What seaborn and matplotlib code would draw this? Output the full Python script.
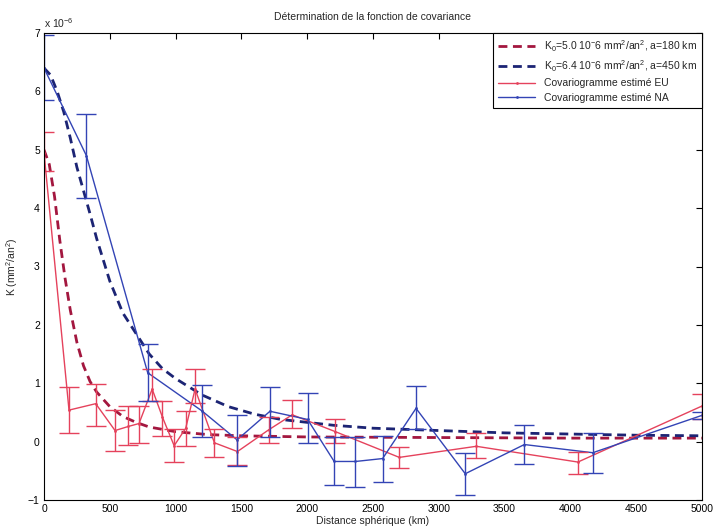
import numpy as np
import pandas as pd
import matplotlib
matplotlib.use('Agg')
import matplotlib.pyplot as plt
import seaborn as sns

# Values, K in units of 1e-6 mm^2/an^2, distance in km
# --- estimated covariogram, Europe (red)
dist_eu = [0, 190, 393, 540, 641, 722, 822, 900, 989, 1077, 1148, 1295, 1470, 1706, 1886, 2215, 2700, 3285, 4057, 5000]
k_eu = [4.95, 0.54, 0.65, 0.19, 0.26, 0.31, 0.90, 0.42, -0.07, 0.23, 0.90, -0.02, -0.17, 0.20, 0.46, 0.17, -0.27, -0.08, -0.35, 0.61]
top_eu = [5.30, 0.94, 0.99, 0.54, 0.61, 0.61, 1.25, 0.70, 0.22, 0.53, 1.24, 0.22, 0.08, 0.43, 0.71, 0.38, -0.09, 0.14, -0.17, 0.82]
bot_eu = [4.63, 0.14, 0.27, -0.16, -0.06, -0.02, 0.69, 0.09, -0.35, -0.07, 0.66, -0.26, -0.40, -0.03, 0.23, -0.02, -0.46, -0.28, -0.55, 0.39]

# --- estimated covariogram, North America (blue)
dist_na = [0, 322, 788, 1204, 1467, 1717, 2003, 2205, 2367, 2573, 2827, 3201, 3650, 4170, 5000]
k_na = [6.40, 4.90, 1.18, 0.52, 0.03, 0.52, 0.38, -0.34, -0.34, -0.29, 0.57, -0.55, -0.05, -0.19, 0.45]
top_na = [6.97, 5.61, 1.68, 0.97, 0.45, 0.94, 0.83, 0.08, 0.08, 0.09, 0.95, -0.19, 0.28, 0.15, 0.50]
bot_na = [5.86, 4.17, 0.69, 0.08, -0.41, 0.08, -0.03, -0.75, -0.77, -0.69, 0.21, -0.91, -0.38, -0.54, 0.39]

# --- fitted covariance functions (dashed)
dist_fit_eu = [0, 40, 80, 120, 160, 200, 250, 300, 350, 400, 500, 600, 700, 800, 1000, 1250, 1500, 2000, 3000, 4000, 5000]
fit_eu = [5.0, 4.75, 4.2, 3.45, 2.8, 2.25, 1.7, 1.3, 1.03, 0.85, 0.6, 0.43, 0.33, 0.25, 0.17, 0.12, 0.10, 0.08, 0.07, 0.06, 0.06]
dist_fit_na = [0, 50, 100, 150, 200, 250, 300, 350, 400, 500, 600, 700, 800, 900, 1000, 1200, 1400, 1600, 1800, 2000, 2200, 2500, 3000, 3500, 4000, 4500, 5000]
fit_na = [6.4, 6.28, 6.0, 5.65, 5.2, 4.7, 4.3, 3.9, 3.48, 2.75, 2.2, 1.85, 1.5, 1.25, 1.08, 0.8, 0.6, 0.47, 0.38, 0.33, 0.28, 0.23, 0.19, 0.15, 0.13, 0.11, 0.10]

labels = [r'K$_0$=5.0 10$^{-}$6 mm$^2$/an$^2$, a=180 km',
          r'K$_0$=6.4 10$^{-}$6 mm$^2$/an$^2$, a=450 km',
          'Covariogramme estimé EU',
          'Covariogramme estimé NA']

RED = '#e5425c'
RED_FIT = '#a3173f'
BLUE = '#3344b5'
BLUE_FIT = '#1c2474'

sns.set_theme(style='white')
plt.rcParams['font.family'] = ['Liberation Sans', 'DejaVu Sans']
plt.rcParams['mathtext.default'] = 'regular'
plt.rcParams['lines.dashed_pattern'] = [3.2, 2.0]
FS = 7.5

fig = plt.figure(figsize=(7.14, 5.27), dpi=100, facecolor='white')
ax = fig.add_axes([44 / 714, 1 - 500 / 527, 658 / 714, 467 / 527], facecolor='white')

df_fit_eu = pd.DataFrame({'d': dist_fit_eu, 'k': fit_eu})
df_fit_na = pd.DataFrame({'d': dist_fit_na, 'k': fit_na})
df_eu = pd.DataFrame({'d': dist_eu, 'k': k_eu})
df_na = pd.DataFrame({'d': dist_na, 'k': k_na})

sns.lineplot(data=df_fit_eu, x='d', y='k', ax=ax, color=RED_FIT, linestyle='--', lw=2.0,
             sort=False, estimator=None, label=labels[0])
sns.lineplot(data=df_fit_na, x='d', y='k', ax=ax, color=BLUE_FIT, linestyle='--', lw=2.0,
             sort=False, estimator=None, label=labels[1])
sns.lineplot(data=df_eu, x='d', y='k', ax=ax, color=RED, lw=1.0, marker='.', markersize=4,
             markeredgewidth=0, sort=False, estimator=None, label=labels[2])
sns.lineplot(data=df_na, x='d', y='k', ax=ax, color=BLUE, lw=1.0, marker='.', markersize=4,
             markeredgewidth=0, sort=False, estimator=None, label=labels[3])

# error bars
ax.errorbar(dist_eu, k_eu, yerr=[np.array(k_eu) - np.array(bot_eu), np.array(top_eu) - np.array(k_eu)],
            fmt='none', ecolor=RED, elinewidth=1.0, capsize=7, capthick=1.0, label='_nolegend_')
ax.errorbar(dist_na, k_na, yerr=[np.array(k_na) - np.array(bot_na), np.array(top_na) - np.array(k_na)],
            fmt='none', ecolor=BLUE, elinewidth=1.0, capsize=7, capthick=1.0, label='_nolegend_')

ax.set_xlim(0, 5000)
ax.set_ylim(-1, 7)
ax.set_xticks(np.arange(0, 5001, 500))
ax.set_yticks(np.arange(-1, 8, 1))
ax.tick_params(direction='in', length=4, width=0.8, top=True, right=True, labelsize=FS, colors='black', pad=3)
for s in ax.spines.values():
    s.set_color('black')
    s.set_linewidth(0.8)

ax.set_xlabel('Distance sphérique (km)', fontsize=FS, labelpad=1)
ax.set_ylabel('K (mm$^2$/an$^2$)', fontsize=FS, labelpad=6)
ax.set_title('Détermination de la fonction de covariance', fontsize=FS, pad=9)
ax.text(0.0, 1.006, r'x 10$^{-6}$', transform=ax.transAxes, fontsize=FS, ha='left', va='bottom')

ax.legend(loc='upper right', borderaxespad=0, fancybox=False, edgecolor='black', framealpha=1,
          fontsize=FS, handlelength=3.6, labelspacing=0.45, borderpad=0.5)
ax.get_legend().get_frame().set_linewidth(0.8)

fig.savefig('out.png', dpi=100, facecolor='white')
